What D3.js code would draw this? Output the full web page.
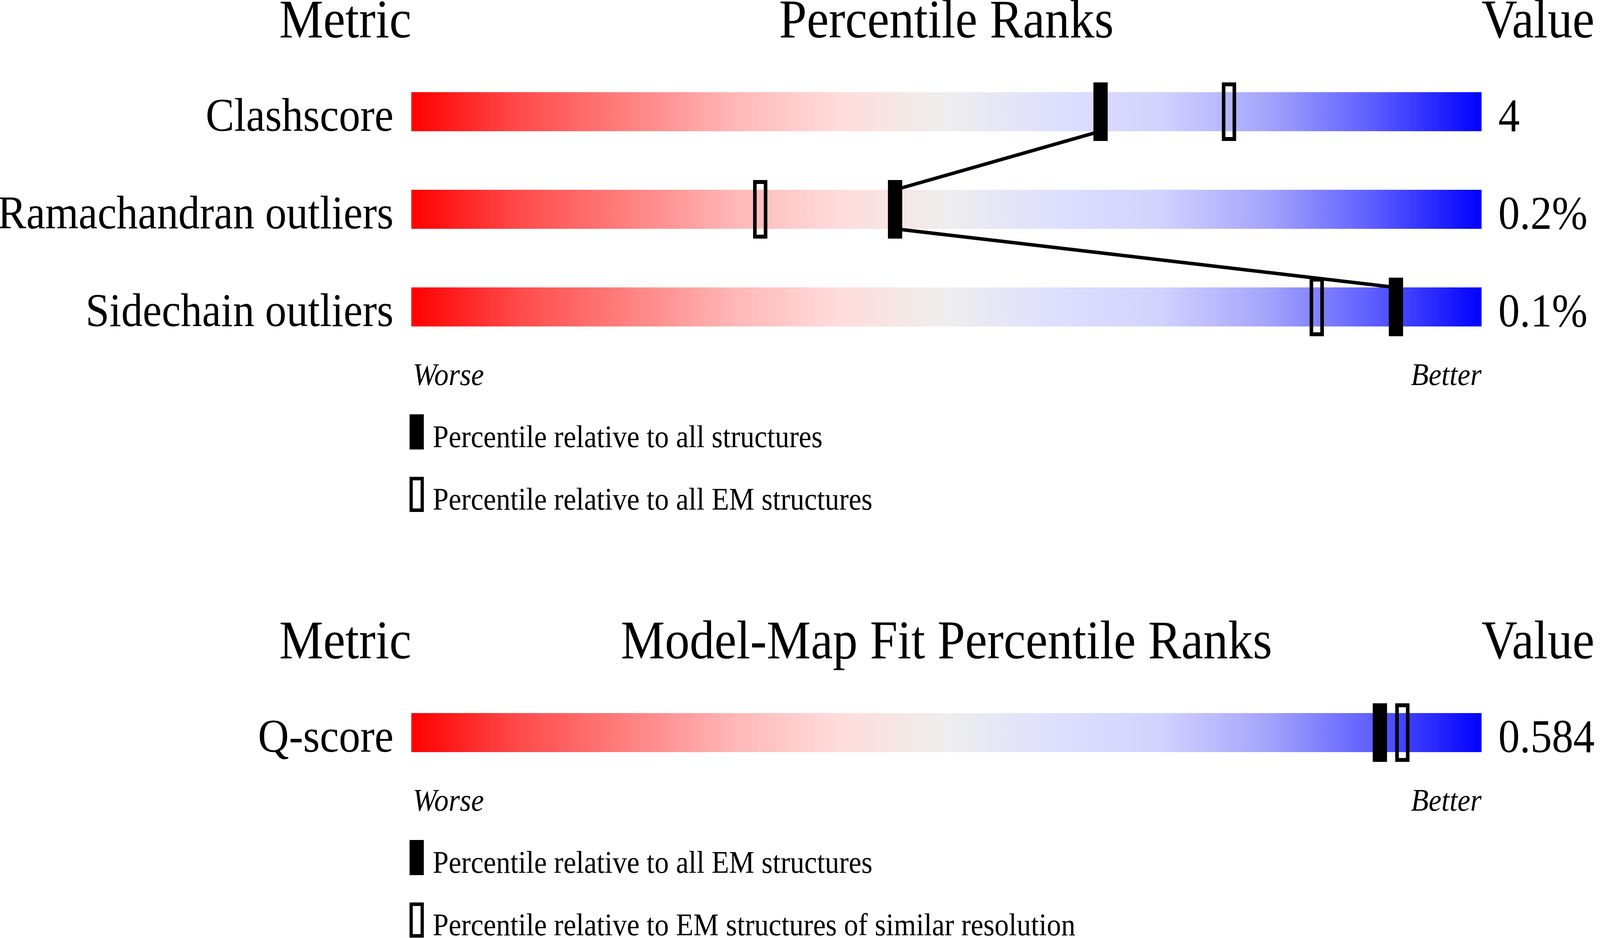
<!DOCTYPE html>
<meta charset="utf-8">
<style>
html, body { margin: 0; padding: 0; overflow: hidden; background: #fff; }
svg { display: block; width: 100vw; height: 100vh; }
text { font-family: "Liberation Serif", "Times New Roman", serif; fill: #000; }
.head { font-size: 139px; }
.label { font-size: 120px; }
.note { font-size: 80px; }
.end { font-size: 81px; font-style: italic; }
</style>
<body>
<div id="chart"></div>
<script src="https://d3js.org/d3.v7.min.js"></script>
<script>
// geometry panel
var metrics = ["Clashscore", "Ramachandran outliers", "Sidechain outliers"];
var metricValues = ["4", "0.2%", "0.1%"];
var pctAll = [64.4, 45.2, 92.0];
var pctAllEM = [76.4, 32.6, 84.6];
var legend1 = ["Percentile relative to all structures", "Percentile relative to all EM structures"];

// model-map fit panel
var fitMetrics = ["Q-score"];
var fitValues = ["0.584"];
var fitPctAllEM = [90.5];
var fitPctSimilar = [92.6];
var legend2 = ["Percentile relative to all EM structures", "Percentile relative to EM structures of similar resolution"];

var width = 4485, height = 2402;
var barH = 100, rowStep = 250, markW = 40, markOver = 25, ring = 10;

// drawn in a fixed 4485x2402 space, stretched to the window
var svg = d3.select("#chart").append("svg")
    .attr("viewBox", "0 0 " + width + " " + height)
    .attr("preserveAspectRatio", "none");

var stops = [
  [0, "#ff0000"], [0.1, "#ff4a4a"], [0.2, "#ff7f7f"], [0.3, "#ffb6b6"],
  [0.4, "#ffdcdc"], [0.5, "#eeeeee"], [0.6, "#dfdffe"], [0.7, "#d2d2ff"],
  [0.8, "#a4a4fc"], [0.9, "#5c5cff"], [1, "#0000ff"]
];
var grad = svg.append("defs").append("linearGradient").attr("id", "slider");
grad.selectAll("stop").data(stops).enter().append("stop")
    .attr("offset", function(d) { return d[0]; })
    .attr("stop-color", function(d) { return d[1]; });

var x = d3.scaleLinear().domain([0, 100]).range([1153, 4153]);

function panel(top, title, names, values, filled, hollow, legendText) {
  var g = svg.append("g").attr("transform", "translate(0," + top + ")");
  var barTop = function(i) { return 140 + i * rowStep; };

  g.append("text").attr("class", "head").attr("x", x(0)).attr("y", 0)
      .attr("text-anchor", "end").text("Metric");
  g.append("text").attr("class", "head").attr("x", (x(0) + x(100)) / 2).attr("y", 0)
      .attr("text-anchor", "middle").text(title);
  g.append("text").attr("class", "head").attr("x", x(100)).attr("y", 0).text("Value");

  g.selectAll(".bar").data(names).enter().append("rect")
      .attr("class", "bar")
      .attr("x", x(0))
      .attr("y", function(d, i) { return barTop(i); })
      .attr("width", x(100) - x(0))
      .attr("height", barH)
      .attr("fill", "url(#slider)");

  g.selectAll(".name").data(names).enter().append("text")
      .attr("class", "label")
      .attr("x", x(0) - 50)
      .attr("y", function(d, i) { return barTop(i) + barH - 1; })
      .attr("text-anchor", "end")
      .text(function(d) { return d; });

  g.selectAll(".val").data(values).enter().append("text")
      .attr("class", "label")
      .attr("x", x(100) + 47)
      .attr("y", function(d, i) { return barTop(i) + barH; })
      .text(function(d) { return d; });

  // lines joining the filled markers
  for (var i = 0; i < filled.length - 1; i++) {
    g.append("line")
        .attr("x1", x(filled[i])).attr("y1", barTop(i) + barH)
        .attr("x2", x(filled[i + 1])).attr("y2", barTop(i + 1))
        .attr("stroke", "#000").attr("stroke-width", 9);
  }

  g.selectAll(".hollow").data(hollow).enter().append("rect")
      .attr("x", function(d) { return x(d) - markW / 2 + ring / 2; })
      .attr("y", function(d, i) { return barTop(i) - markOver + ring / 2; })
      .attr("width", markW - ring)
      .attr("height", barH + 2 * markOver - ring)
      .attr("fill", "none")
      .attr("stroke", "#000")
      .attr("stroke-width", ring);

  g.selectAll(".filled").data(filled).enter().append("rect")
      .attr("x", function(d) { return x(d) - markW / 2; })
      .attr("y", function(d, i) { return barTop(i) - markOver; })
      .attr("width", markW)
      .attr("height", barH + 2 * markOver)
      .attr("fill", "#000");

  var bottom = barTop(names.length - 1) + barH;
  g.append("text").attr("class", "end").attr("x", x(0) + 4).attr("y", bottom + 150).text("Worse");
  g.append("text").attr("class", "end").attr("x", x(100)).attr("y", bottom + 150)
      .attr("text-anchor", "end").text("Better");

  legendText.forEach(function(t, i) {
    var ly = bottom + 225 + i * 160;
    if (i === 0) {
      g.append("rect").attr("x", x(0) - 5).attr("y", ly).attr("width", 40).attr("height", 90)
          .attr("fill", "#000");
    } else {
      g.append("rect").attr("x", x(0) - 5 + 4.5).attr("y", ly + 4.5).attr("width", 31).attr("height", 81)
          .attr("fill", "none").attr("stroke", "#000").attr("stroke-width", 9);
    }
    g.append("text").attr("class", "note").attr("x", x(0) + 60).attr("y", ly + 84).text(t);
  });
}

panel(96, "Percentile Ranks", metrics, metricValues, pctAll, pctAllEM, legend1);
panel(1686, "Model-Map Fit Percentile Ranks", fitMetrics, fitValues, fitPctAllEM, fitPctSimilar, legend2);
</script>
</body>
